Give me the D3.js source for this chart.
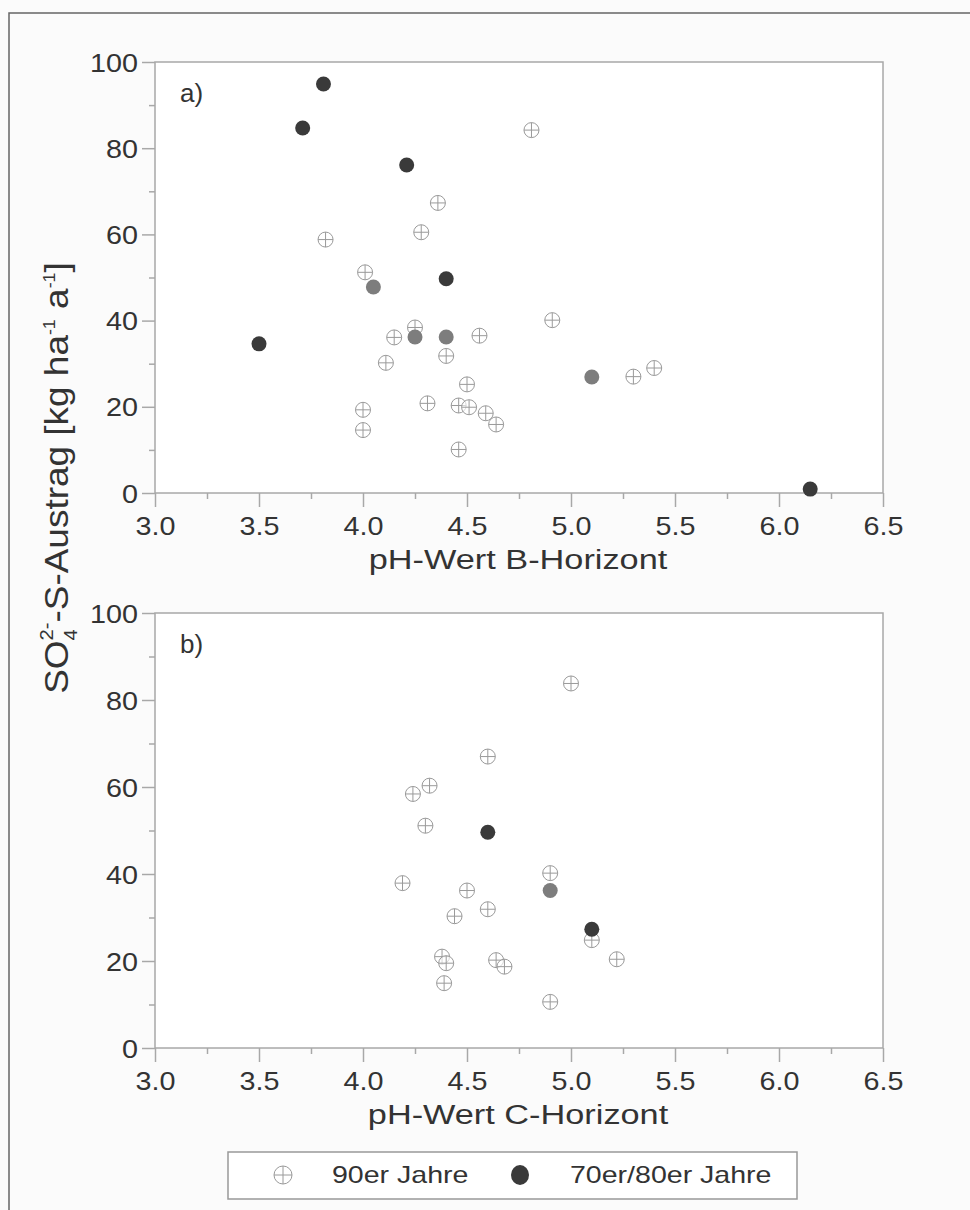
<!DOCTYPE html>
<html>
<head>
<meta charset="utf-8">
<script src="https://cdn.jsdelivr.net/npm/d3@7"></script>
<style>
  body { margin: 0; background: #fbfbfb; }
  svg { display: block; }
  text { font-family: "Liberation Sans", Arial, Helvetica, sans-serif; fill: #333; }
</style>
</head>
<body>
<svg id="chart" width="970" height="1210"></svg>
<script>
// panel a) pH B-Horizont
var a90pH = [4.81, 4.36, 4.28, 3.82, 4.01, 4.25, 4.15, 4.56, 4.40, 4.91, 4.11, 5.40, 5.30, 4.50, 4.00, 4.31, 4.46, 4.51, 4.59, 4.64, 4.00, 4.46];
var a90S  = [84.2, 67.3, 60.5, 58.8, 51.2, 38.4, 36.1, 36.5, 31.8, 40.1, 30.2, 29.0, 27.0, 25.2, 19.3, 20.8, 20.3, 19.9, 18.5, 15.9, 14.6, 10.1];
var a70pH = [3.50, 3.71, 3.81, 4.21, 4.40, 6.15];
var a70S  = [34.6, 84.7, 94.9, 76.1, 49.7, 0.9];
var a70lightPH = [4.05, 4.25, 4.40, 5.10];
var a70lightS  = [47.8, 36.2, 36.2, 26.9];

// panel b) pH C-Horizont
var b90pH = [5.00, 4.60, 4.32, 4.24, 4.30, 4.90, 4.19, 4.50, 4.60, 4.44, 5.10, 5.22, 4.38, 4.40, 4.64, 4.68, 4.39, 4.90];
var b90S  = [83.8, 67.0, 60.3, 58.4, 51.1, 40.2, 37.9, 36.2, 31.9, 30.3, 24.8, 20.4, 21.0, 19.5, 20.2, 18.7, 14.9, 10.6];
var b70pH = [4.60, 5.10];
var b70S  = [49.6, 27.3];
var b70lightPH = [4.90];
var b70lightS  = [36.2];

var xTicks = [3.0, 3.5, 4.0, 4.5, 5.0, 5.5, 6.0, 6.5];
var yTicks = [0, 20, 40, 60, 80, 100];
var legendLabels = ["90er Jahre", "70er/80er Jahre"];

var svg = d3.select("#chart");
var stretch = 1.15; // the original lettering is a little wide

var axisCol = "#a8a8a8", dark = "#3a3a3a", mid = "#7d7d7d", openCol = "#9a9a9a";

// outer frame
svg.append("path")
    .attr("d", "M9,1210V13H970")
    .attr("fill", "none")
    .attr("stroke", "#666")
    .attr("stroke-width", 1.5);

function zip(xs, ys) { return xs.map(function(v, i) { return [v, ys[i]]; }); }

function panel(top, bottom, label, title, open, filled, light) {
  var x = d3.scaleLinear().domain([3, 6.5]).range([155, 883]);
  var y = d3.scaleLinear().domain([0, 100]).range([bottom, top]);
  var g = svg.append("g");

  g.append("rect")
      .attr("x", x(3)).attr("y", y(100))
      .attr("width", x(6.5) - x(3)).attr("height", y(0) - y(100))
      .attr("fill", "#fff")
      .attr("stroke", axisCol)
      .attr("stroke-width", 1.5);

  // minor ticks
  g.append("g")
      .attr("transform", "translate(0," + y(0) + ")")
      .call(d3.axisBottom(x).tickValues(d3.range(3.25, 6.5, 0.5)).tickSize(6).tickFormat(""))
      .call(function(s) { s.select(".domain").remove(); });
  g.append("g")
      .attr("transform", "translate(" + x(3) + ",0)")
      .call(d3.axisLeft(y).tickValues(d3.range(10, 100, 20)).tickSize(6).tickFormat(""))
      .call(function(s) { s.select(".domain").remove(); });

  // major ticks + labels
  g.append("g")
      .attr("transform", "translate(0," + y(0) + ")")
      .call(d3.axisBottom(x).tickValues(xTicks).tickSize(14).tickPadding(10).tickFormat(d3.format(".1f")))
      .call(function(s) {
        s.select(".domain").remove();
        s.selectAll("text").attr("font-size", 25).attr("transform", "scale(" + stretch + ",1)");
      });
  g.append("g")
      .attr("transform", "translate(" + x(3) + ",0)")
      .call(d3.axisLeft(y).tickValues(yTicks).tickSize(13).tickPadding(5))
      .call(function(s) {
        s.select(".domain").remove();
        s.selectAll("text").attr("font-size", 25)
          .attr("x", -17 / stretch).attr("dy", "0.36em")
          .attr("transform", "scale(" + stretch + ",1)");
      });
  g.selectAll(".tick line").attr("stroke", axisCol).attr("stroke-width", 1.5);
  g.selectAll(".tick text").style("fill", "#333").attr("font-family", "Liberation Sans, Arial, sans-serif");

  g.append("text")
      .attr("transform", "translate(" + 518 + "," + (y(0) + 76) + ") scale(1.27,1)")
      .attr("text-anchor", "middle")
      .attr("font-size", 27)
      .text(title);

  g.append("text")
      .attr("x", x(3) + 25).attr("y", y(100) + 40)
      .attr("font-size", 26)
      .text(label);

  var pts = g.append("g");
  var o = pts.selectAll(".open").data(open).enter().append("g")
      .attr("transform", function(d) { return "translate(" + x(d[0]) + "," + y(d[1]) + ")"; });
  crossCircle(o, 7.5);

  pts.selectAll(".light").data(light).enter().append("circle")
      .attr("cx", function(d) { return x(d[0]); })
      .attr("cy", function(d) { return y(d[1]); })
      .attr("r", 7.5)
      .attr("fill", mid);

  pts.selectAll(".filled").data(filled).enter().append("circle")
      .attr("cx", function(d) { return x(d[0]); })
      .attr("cy", function(d) { return y(d[1]); })
      .attr("r", 7.5)
      .attr("fill", dark);
}

function crossCircle(sel, r) {
  sel.append("circle").attr("r", r).attr("fill", "#fff").attr("fill-opacity", 0.6)
      .attr("stroke", openCol).attr("stroke-width", 1);
  sel.append("path").attr("d", "M" + (-r) + ",0H" + r + "M0," + (-r) + "V" + r)
      .attr("stroke", openCol).attr("stroke-width", 1);
}

panel(62, 493, "a)", "pH-Wert B-Horizont", zip(a90pH, a90S), zip(a70pH, a70S), zip(a70lightPH, a70lightS));
panel(613, 1048, "b)", "pH-Wert C-Horizont", zip(b90pH, b90S), zip(b70pH, b70S), zip(b70lightPH, b70lightS));

// shared y axis title
var yt = svg.append("text")
    .attr("transform", "translate(68,478) rotate(-90) scale(1.12,1)")
    .attr("text-anchor", "middle")
    .attr("font-size", 33);
yt.append("tspan").text("SO");
yt.append("tspan").attr("font-size", 18).attr("dy", 9).text("4");
yt.append("tspan").attr("font-size", 18).attr("dy", -24).attr("dx", -10).text("2-");
yt.append("tspan").attr("dy", 15).text("-S-Austrag [kg ha");
yt.append("tspan").attr("font-size", 16).attr("dy", -13).text("-1");
yt.append("tspan").attr("dy", 13).text(" a");
yt.append("tspan").attr("font-size", 16).attr("dy", -13).text("-1");
yt.append("tspan").attr("dy", 13).text("]");

// legend
var lg = svg.append("g");
lg.append("rect")
    .attr("x", 228).attr("y", 1152).attr("width", 569).attr("height", 47)
    .attr("fill", "#fff").attr("stroke", "#999").attr("stroke-width", 1.5);
var lo = lg.append("g").attr("transform", "translate(283,1175)");
crossCircle(lo, 9);
lg.append("ellipse").attr("cx", 520).attr("cy", 1175).attr("rx", 9).attr("ry", 10).attr("fill", dark);
lg.selectAll(".lt").data(legendLabels).enter().append("text")
    .attr("transform", function(d, i) { return "translate(" + (i ? 570 : 332) + ",1183) scale(1.19,1)"; })
    .attr("font-size", 24)
    .text(function(d) { return d; });
</script>
</body>
</html>
